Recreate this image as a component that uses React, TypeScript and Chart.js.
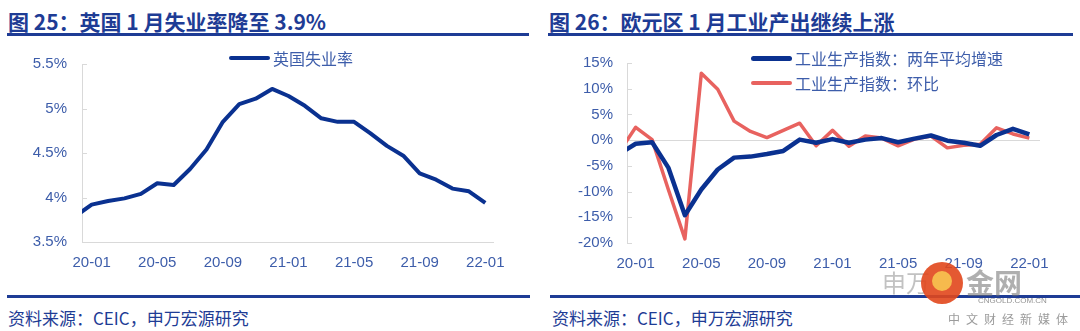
import React, { useEffect, useRef } from 'react';
import { Chart, registerables } from 'chart.js';

Chart.register(...registerables);

// ---------- data ----------
const months = [
  '19-12', '20-01', '20-02', '20-03', '20-04', '20-05', '20-06', '20-07', '20-08', '20-09', '20-10', '20-11', '20-12',
  '21-01', '21-02', '21-03', '21-04', '21-05', '21-06', '21-07', '21-08', '21-09', '21-10', '21-11', '21-12', '22-01',
];
const tickLabels = ['20-01', '20-05', '20-09', '21-01', '21-05', '21-09', '22-01'];

const ukUnemployment = [
  3.79, 3.92, 3.96, 3.99, 4.04, 4.16, 4.14, 4.32, 4.54, 4.85, 5.05, 5.11, 5.22,
  5.14, 5.03, 4.89, 4.85, 4.85, 4.72, 4.58, 4.47, 4.27, 4.2, 4.1, 4.07, 3.94,
];
const ipTwoYearAvg = [
  -2.7, -0.7, -0.4, -5.4, -14.6, -9.6, -5.7, -3.4, -3.2, -2.7, -2.1, 0.1, -0.5,
  0.2, -0.5, 0.1, 0.4, -0.4, 0.3, 0.9, -0.1, -0.5, -1.1, 1.0, 2.2, 1.1,
];
const ipMoM = [
  -2.3, 2.5, 0.1, -9.7, -19.2, 13.0, 9.9, 3.7, 1.7, 0.5, 1.9, 3.3, -1.1,
  1.9, -1.2, 0.8, 0.4, -1.1, 0.2, 0.8, -1.5, -1.0, -0.8, 2.4, 1.2, 0.4,
];

const leftTitle = '图 25：英国 1 月失业率降至 3.9%';
const rightTitle = '图 26：欧元区 1 月工业产出继续上涨';
const sourceText = '资料来源：CEIC，申万宏源研究';
const ukLabel = '英国失业率';
const ipAvgLabel = '工业生产指数：两年平均增速';
const ipMoMLabel = '工业生产指数：环比';

// ---------- styles ----------
const BLUE = '#0A3190';
const RED = '#E8625F';
const TITLE_BLUE = '#1E3C95';
const TICK_BLUE = '#3D5DAA';
const AXIS_GRAY = '#D9D9D9';
const LATIN = "'Liberation Sans', Arial, sans-serif";
const CJK = "'Noto Sans CJK SC', 'Noto Sans', sans-serif";

const innerTicks = {
  id: 'innerTicks',
  beforeDatasetsDraw(chart: any) {
    const { ctx, chartArea, scales } = chart;
    const y = scales.y;
    ctx.save();
    ctx.strokeStyle = AXIS_GRAY;
    ctx.lineWidth = 1;
    y.ticks.forEach((t: any) => {
      const py = Math.round(y.getPixelForValue(t.value)) + 0.5;
      ctx.beginPath();
      ctx.moveTo(chartArea.left, py);
      ctx.lineTo(chartArea.left + 5, py);
      ctx.stroke();
    });
    ctx.restore();
  },
};

function toPoints(values: number[]) {
  return values.map((v, i) => ({ x: i - 1, y: v }));
}

function xScale(min: number, max: number, showBorder: boolean, height: number) {
  return {
    type: 'linear',
    min,
    max,
    grid: { display: false, drawTicks: false },
    border: { display: showBorder, color: AXIS_GRAY, width: 1 },
    afterBuildTicks: (s: any) => {
      s.ticks = tickLabels.map((l) => ({ value: months.indexOf(l) - 1 }));
    },
    afterFit: (s: any) => {
      s.height = height;
    },
    ticks: {
      autoSkip: false,
      maxRotation: 0,
      minRotation: 0,
      padding: 12,
      color: TICK_BLUE,
      font: { family: LATIN, size: 15 },
      callback: (v: any) => months[Math.round(Number(v)) + 1],
    },
  };
}

function leftConfig(): any {
  return {
    type: 'line',
    data: {
      datasets: [
        {
          label: ukLabel,
          data: toPoints(ukUnemployment),
          borderColor: BLUE,
          borderWidth: 4,
          pointRadius: 0,
          tension: 0,
          fill: false,
          clip: 0,
          borderJoinStyle: 'round',
        },
      ],
    },
    options: {
      responsive: false,
      animation: false,
      devicePixelRatio: 1,
      events: [],
      layout: { padding: { top: 18, right: 47, bottom: 0, left: 0 } },
      plugins: { legend: { display: false }, tooltip: { enabled: false } },
      scales: {
        x: xScale(-0.59, 24.47, true, 38),
        y: {
          min: 3.5,
          max: 5.5,
          grid: { display: false, drawTicks: false },
          border: { display: true, color: AXIS_GRAY, width: 1 },
          afterFit: (s: any) => {
            s.width = 82;
          },
          ticks: {
            stepSize: 0.5,
            padding: 15,
            color: TICK_BLUE,
            font: { family: LATIN, size: 15 },
            callback: (v: any) => `${v}%`,
          },
        },
      },
    },
    plugins: [innerTicks],
  };
}

function rightConfig(): any {
  return {
    type: 'line',
    data: {
      datasets: [
        {
          label: ipAvgLabel,
          data: toPoints(ipTwoYearAvg),
          borderColor: BLUE,
          borderWidth: 4.5,
          pointRadius: 0,
          tension: 0,
          fill: false,
          clip: 0,
          borderJoinStyle: 'round',
        },
        {
          label: ipMoMLabel,
          data: toPoints(ipMoM),
          borderColor: RED,
          borderWidth: 3.5,
          pointRadius: 0,
          tension: 0,
          fill: false,
          clip: 0,
          borderJoinStyle: 'round',
        },
      ],
    },
    options: {
      responsive: false,
      animation: false,
      devicePixelRatio: 1,
      events: [],
      layout: { padding: { top: 23, right: 40, bottom: 0, left: 0 } },
      plugins: { legend: { display: false }, tooltip: { enabled: false } },
      scales: {
        x: xScale(-0.53, 24.65, false, 37),
        y: {
          min: -20,
          max: 15,
          grid: {
            display: true,
            drawTicks: false,
            lineWidth: 1,
            color: (c: any) => (c.tick && c.tick.value === 0 ? AXIS_GRAY : 'rgba(0,0,0,0)'),
          },
          border: { display: true, color: AXIS_GRAY, width: 1 },
          afterFit: (s: any) => {
            s.width = 87;
          },
          ticks: {
            stepSize: 5,
            padding: 14,
            color: TICK_BLUE,
            font: { family: LATIN, size: 15 },
            callback: (v: any) => `${v}%`,
          },
        },
      },
    },
    plugins: [innerTicks],
  };
}

function ChartCanvas({ make, left, top }: { make: () => any; left: number; top: number }) {
  const ref = useRef<HTMLCanvasElement>(null);
  useEffect(() => {
    const chart = new Chart(ref.current as HTMLCanvasElement, make());
    return () => chart.destroy();
  }, []);
  return (
    <canvas
      ref={ref}
      width={540}
      height={240}
      style={{ position: 'absolute', left, top, width: 540, height: 240 }}
    />
  );
}

function LegendItem({ left, top, color, width, thick, text }: any) {
  return (
    <div style={{ position: 'absolute', left, top, height: 20, display: 'flex', alignItems: 'center' }}>
      <div style={{ width, height: thick, background: color, borderRadius: thick / 2 }} />
      <span style={{ marginLeft: 3, font: `16px ${CJK}`, color: TICK_BLUE, lineHeight: '20px', whiteSpace: 'nowrap' }}>
        {text}
      </span>
    </div>
  );
}

export default function App() {
  const titleStyle: any = {
    position: 'absolute',
    top: 9,
    font: `bold 21px ${CJK}`,
    color: TITLE_BLUE,
    lineHeight: '24px',
    whiteSpace: 'nowrap',
  };
  const sourceStyle: any = {
    position: 'absolute',
    top: 307,
    font: `17px ${CJK}`,
    color: TITLE_BLUE,
    lineHeight: '22px',
    whiteSpace: 'nowrap',
  };
  return (
    <div
      style={{
        position: 'fixed',
        left: 0,
        top: 0,
        width: 1080,
        height: 331,
        background: '#fff',
        overflow: 'hidden',
      }}
    >
      <div style={{ ...titleStyle, left: 8 }}>{leftTitle}</div>
      <div style={{ ...titleStyle, left: 549 }}>{rightTitle}</div>
      <div style={{ position: 'absolute', left: 7, top: 33, width: 522, height: 3, background: TITLE_BLUE }} />
      <div style={{ position: 'absolute', left: 548, top: 33, width: 525, height: 3, background: TITLE_BLUE }} />

      <ChartCanvas make={leftConfig} left={0} top={40} />
      <ChartCanvas make={rightConfig} left={540} top={40} />

      <LegendItem left={229} top={48} color={BLUE} width={41} thick={4} text={ukLabel} />
      <LegendItem left={751} top={48} color={BLUE} width={41} thick={5} text={ipAvgLabel} />
      <LegendItem left={751} top={73} color={RED} width={41} thick={4} text={ipMoMLabel} />

      <div style={{ position: 'absolute', left: 7, top: 295, width: 523, height: 3, background: TITLE_BLUE }} />
      <div style={{ position: 'absolute', left: 550, top: 295, width: 530, height: 3, background: TITLE_BLUE }} />
      <div style={{ ...sourceStyle, left: 8 }}>{sourceText}</div>
      <div style={{ ...sourceStyle, left: 552 }}>{sourceText}</div>

      {/* watermark */}
      <div style={{ position: 'absolute', left: 882, top: 264, font: `24px ${CJK}`, color: 'rgba(120,120,120,0.45)', whiteSpace: 'nowrap' }}>申万</div>
      <div style={{ position: 'absolute', left: 921, top: 262, width: 42, height: 42, borderRadius: 21, background: '#E2471C', opacity: 0.9 }}>
        <div style={{ position: 'absolute', left: 11, top: 9, width: 20, height: 20, borderRadius: 10, background: '#F6B33A' }} />
      </div>
      <div style={{ position: 'absolute', left: 966, top: 262, font: `bold 28px ${CJK}`, color: 'rgba(110,110,110,0.55)', whiteSpace: 'nowrap' }}>金网</div>
      <div style={{ position: 'absolute', left: 978, top: 296, font: `8px ${LATIN}`, color: 'rgba(120,120,120,0.8)', whiteSpace: 'nowrap' }}>CNGOLD.COM.CN</div>
      <div style={{ position: 'absolute', left: 948, top: 310, font: `12px ${CJK}`, color: 'rgba(130,130,130,0.8)', letterSpacing: 6, whiteSpace: 'nowrap' }}>中文财经新媒体</div>
    </div>
  );
}
